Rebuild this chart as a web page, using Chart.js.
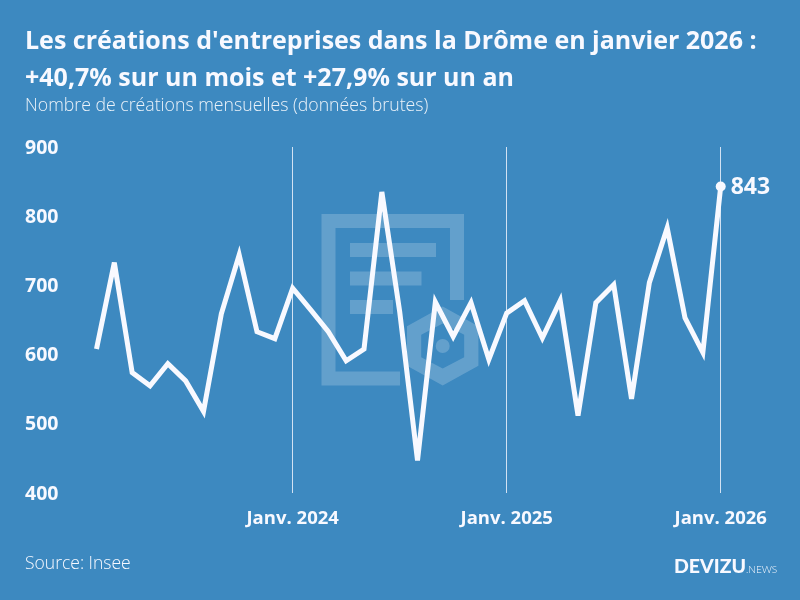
<!DOCTYPE html>
<html lang="fr">
<head>
<meta charset="utf-8">
<style>html,body{margin:0;padding:0;background:#3d89c0}#w{width:800px;height:600px}canvas{display:block}</style>
<script src="https://cdn.jsdelivr.net/npm/chart.js@4"></script>
</head>
<body>
<div id="w"><canvas id="c" width="800" height="600"></canvas></div>
<script>
const months = ["Févr. 2023","Mars 2023","Avr. 2023","Mai 2023","Juin 2023","Juil. 2023","Août 2023","Sept. 2023","Oct. 2023","Nov. 2023","Déc. 2023",
"Janv. 2024","Févr. 2024","Mars 2024","Avr. 2024","Mai 2024","Juin 2024","Juil. 2024","Août 2024","Sept. 2024","Oct. 2024","Nov. 2024","Déc. 2024",
"Janv. 2025","Févr. 2025","Mars 2025","Avr. 2025","Mai 2025","Juin 2025","Juil. 2025","Août 2025","Sept. 2025","Oct. 2025","Nov. 2025","Déc. 2025","Janv. 2026"];
const creations = [608,733,574,555,587,562,518,659,744,633,623,696,665,633,591,608,835,662,447,676,626,675,593,660,678,624,678,512,675,701,536,704,783,653,603,843];
const titleLines = ["Les créations d'entreprises dans la Drôme en janvier 2026 :","+40,7% sur un mois et +27,9% sur un an"];
const subtitleText = "Nombre de créations mensuelles (données brutes)";
const sourceText = "Source: Insee";
const WHITE = "#f8f9ff";
const FONT = "'Open Sans', sans-serif";

const decor = {
  id:"decor",
  beforeDatasetsDraw(chart){
    const c = chart.ctx; c.save();
    c.fillStyle = "rgba(255,255,255,0.2)";
    c.beginPath();
    c.moveTo(321.5,214);c.lineTo(464,214);c.lineTo(464,300);c.lineTo(450,300);c.lineTo(450,228);
    c.lineTo(335.5,228);c.lineTo(335.5,371.5);c.lineTo(400,371.5);c.lineTo(400,385.5);c.lineTo(321.5,385.5);c.closePath();c.fill();
    c.fillRect(350,243,86,14);c.fillRect(350,271.5,71.5,14);c.fillRect(350,300,43,14);
    const hex=(r,w)=>{const cx=442.7,cy=346;
      c.moveTo(cx,cy-r);c.lineTo(cx+w,cy-r/2);c.lineTo(cx+w,cy+r/2);c.lineTo(cx,cy+r);c.lineTo(cx-w,cy+r/2);c.lineTo(cx-w,cy-r/2);c.closePath();};
    c.beginPath();hex(39.5,35.7);hex(22.5,21.5);c.fill("evenodd");
    c.beginPath();c.arc(442.7,346,7,0,Math.PI*2);c.fill();
    c.restore();
  },
  beforeDatasetDraw(chart){ chart.ctx.miterLimit = 4; },
  afterDatasetDraw(chart){ chart.ctx.miterLimit = 10; },
  afterDatasetsDraw(chart){
    const c = chart.ctx;
    const meta = chart.getDatasetMeta(0);
    const last = meta.data[meta.data.length-1];
    c.save();
    c.fillStyle = WHITE; c.textBaseline="middle"; c.textAlign="left";
    c.font = "bold 23px "+FONT;
    c.fillText(String(creations[creations.length-1]), last.x+10, last.y+1);
    c.font = "300 17.5px "+FONT;
    c.fillText(sourceText, 25, 564);
    c.font = "900 19.5px Lato, sans-serif";
    c.fillText("DEVIZU", 674, 567);
    c.font = "300 10px Lato, sans-serif";
    c.fillText(".NEWS", 746, 570);
    c.restore();
  }
};

new Chart(document.getElementById("c"),{
  type:"line",
  data:{labels:months,datasets:[{
    data:creations,yAxisID:"y",
    borderColor:WHITE,borderWidth:5,borderJoinStyle:"miter",borderCapStyle:"butt",
    tension:0,fill:false,clip:false,
    pointRadius:ctx=>ctx.dataIndex===creations.length-1?5:0,
    pointBackgroundColor:WHITE,pointBorderWidth:0,pointHoverRadius:0
  }]},
  options:{
    responsive:false,animation:false,
    layout:{padding:{left:25,right:0,top:23,bottom:0}},
    plugins:{
      legend:{display:false},tooltip:{enabled:false},
      title:{display:true,text:titleLines,align:"start",color:WHITE,
        font:{family:FONT,size:25,weight:"bold",lineHeight:1.48},padding:{top:0,bottom:0}},
      subtitle:{display:true,text:subtitleText,align:"start",color:"#eaf2f9",
        font:{family:FONT,size:17.7,weight:"300",lineHeight:1},padding:{top:0,bottom:32.3}}
    },
    scales:{
      x:{type:"category",offset:false,
        border:{display:false},
        grid:{drawTicks:false,lineWidth:1,color:ctx=>{
          const l=months[ctx.index]; return l&&l.startsWith("Janv.")?"rgba(248,249,255,0.8)":"rgba(0,0,0,0)";}},
        ticks:{autoSkip:false,maxRotation:0,minRotation:0,padding:15,color:WHITE,
          font:{family:FONT,size:18.5,weight:"bold"},
          callback(v){const l=months[v];return l.startsWith("Janv.")?l:"";}},
        afterFit(s){s.height=107;}
      },
      y:{min:400,max:900,
        border:{display:false},grid:{display:false},
        ticks:{stepSize:100,color:WHITE,crossAlign:"far",padding:0,labelOffset:1,
          font:{family:FONT,size:19.5,weight:"bold"}},
        afterFit(s){s.width=71.5;}
      },
      right:{position:"right",min:400,max:900,
        border:{display:false},grid:{display:false},
        ticks:{display:false},
        afterFit(s){s.width=79.3;}
      }
    }
  },
  plugins:[decor]
});
</script>
</body>
</html>
